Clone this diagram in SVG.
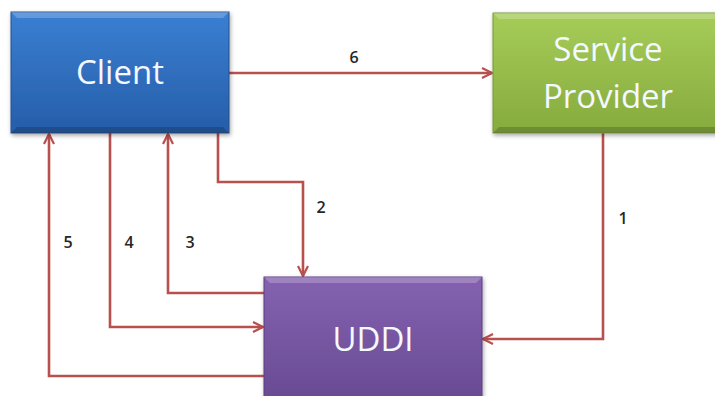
<svg xmlns="http://www.w3.org/2000/svg" width="715" height="396" viewBox="0 0 715 396">
  <defs>
    <style>
      .node-label { font-family: "Open Sans", "Liberation Sans", sans-serif; fill: #f4f8ff; font-size: 33px; text-anchor: middle; }
      .edge-label { font-family: "Open Sans", "Liberation Sans", sans-serif; fill: #262626; font-size: 16px; font-weight: 600; text-anchor: middle; }
      .edge { fill: none; stroke: #b8504e; stroke-width: 2.6; marker-end: url(#chev); }
      .hi { fill: #ffffff; opacity: 0.22; }
      .lo { fill: #000000; opacity: 0.18; }
    </style>
    <marker id="chev" viewBox="0 0 12 12" refX="11" refY="6" markerWidth="12" markerHeight="12" markerUnits="userSpaceOnUse" orient="auto">
      <path d="M1,1 L11,6 L1,11" fill="none" stroke="#b8504e" stroke-width="2.2"/>
    </marker>
    <linearGradient id="gBlue" x1="0" y1="0" x2="0" y2="1">
      <stop offset="0" stop-color="#3a7fd2"/>
      <stop offset="1" stop-color="#265ea9"/>
    </linearGradient>
    <linearGradient id="gGreen" x1="0" y1="0" x2="0" y2="1">
      <stop offset="0" stop-color="#a6cc58"/>
      <stop offset="1" stop-color="#86ab3e"/>
    </linearGradient>
    <linearGradient id="gPurple" x1="0" y1="0" x2="0" y2="1">
      <stop offset="0" stop-color="#8462b0"/>
      <stop offset="1" stop-color="#684a92"/>
    </linearGradient>
    <filter id="shadow" x="-10%" y="-10%" width="120%" height="130%">
      <feDropShadow dx="1" dy="2" stdDeviation="2" flood-color="#000" flood-opacity="0.35"/>
    </filter>
  </defs>

  <rect width="715" height="396" fill="#ffffff"/>

  <!-- connectors -->
  <g id="connectors">
    <path class="edge" d="M229,73 H492"/>
    <path class="edge" d="M603,133 V339 H483"/>
    <path class="edge" d="M218,133 V182 H303 V276"/>
    <path class="edge" d="M264,293 H168 V134"/>
    <path class="edge" d="M110,133 V327 H263"/>
    <path class="edge" d="M264,376 H49 V134"/>
    <text class="edge-label" x="354" y="63">6</text>
    <text class="edge-label" x="623" y="224">1</text>
    <text class="edge-label" x="321" y="213">2</text>
    <text class="edge-label" x="190" y="248">3</text>
    <text class="edge-label" x="129" y="248">4</text>
    <text class="edge-label" x="68" y="248">5</text>
  </g>

  <g id="client">
    <rect x="11" y="12" width="218" height="121" fill="url(#gBlue)" stroke="#24518f" stroke-width="1" filter="url(#shadow)"/>
    <polygon class="hi" points="11,12 229,12 223,18 17,18"/>
    <polygon class="lo" points="11,133 229,133 223,127 17,127"/>
    <text class="node-label" x="120" y="84">Client</text>
  </g>

  <g id="service-provider">
    <rect x="493" y="13" width="226" height="120" fill="url(#gGreen)" stroke="#759838" stroke-width="1" filter="url(#shadow)"/>
    <polygon class="hi" points="493,13 719,13 719,19 499,19"/>
    <polygon class="lo" points="493,133 719,133 719,127 499,127"/>
    <text class="node-label" x="608" y="61">Service</text>
    <text class="node-label" x="608" y="108">Provider</text>
  </g>

  <g id="uddi">
    <rect x="264" y="277" width="218" height="125" fill="url(#gPurple)" stroke="#5a3f80" stroke-width="1" filter="url(#shadow)"/>
    <polygon class="hi" points="264,277 482,277 476,283 270,283"/>
    <text class="node-label" x="373" y="351">UDDI</text>
  </g>
</svg>
